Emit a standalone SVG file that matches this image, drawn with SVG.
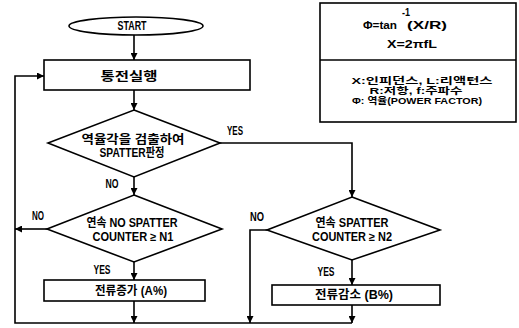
<svg xmlns="http://www.w3.org/2000/svg" width="519" height="328" viewBox="0 0 519 328">
<style>
.s{fill:none;stroke:#000;stroke-width:1.6}
.b{fill:#fff;stroke:#000;stroke-width:1.6}
.t{font-family:"Liberation Sans","Noto Sans CJK KR",sans-serif;font-weight:bold;font-size:12px;fill:#000;text-anchor:middle;dominant-baseline:central}
.i{font-family:"Liberation Sans","Noto Sans CJK KR",sans-serif;font-weight:bold;font-size:10.5px;fill:#000;text-anchor:middle;dominant-baseline:central}
.j{font-family:"Liberation Sans","Noto Sans CJK KR",sans-serif;font-weight:bold;font-size:9px;fill:#000;text-anchor:middle;dominant-baseline:central}
</style>
<defs>
<marker id="a" viewBox="0 0 10 10" refX="10" refY="5" markerWidth="7" markerHeight="7" orient="auto" markerUnits="userSpaceOnUse">
<path d="M0,0 L10,5 L0,10 Z" fill="#000"/>
</marker>
</defs>
<rect width="519" height="328" fill="#fff"/>
<g id="connectors">
<path class="s" d="M134,35 V60" marker-end="url(#a)"/>
<path class="s" d="M134,90 V110" marker-end="url(#a)"/>
<path class="s" d="M220,143 H352 V197" marker-end="url(#a)"/>
<path class="s" d="M134,177 V195" marker-end="url(#a)"/>
<path class="s" d="M47,229 H15" marker-end="url(#a)"/>
<path class="s" d="M15,229 V323 H352"/>
<path class="s" d="M15,229 V76 H44" marker-end="url(#a)"/>
<path class="s" d="M134,262 V280" marker-end="url(#a)"/>
<path class="s" d="M134,301 V323" marker-end="url(#a)"/>
<path class="s" d="M267,230 H250 V323" marker-end="url(#a)"/>
<path class="s" d="M352,260 V285" marker-end="url(#a)"/>
<path class="s" d="M352,305 V323" marker-end="url(#a)"/>
<text class="t" x="235" y="131" textLength="16" lengthAdjust="spacingAndGlyphs">YES</text>
<text class="t" x="112" y="184" textLength="13" lengthAdjust="spacingAndGlyphs">NO</text>
<text class="t" x="38" y="216" textLength="12" lengthAdjust="spacingAndGlyphs">NO</text>
<text class="t" x="102" y="270" textLength="17" lengthAdjust="spacingAndGlyphs">YES</text>
<text class="t" x="257" y="217" textLength="14" lengthAdjust="spacingAndGlyphs">NO</text>
<text class="t" x="326" y="272" textLength="17" lengthAdjust="spacingAndGlyphs">YES</text>
</g>
<g id="start">
<ellipse class="b" cx="136" cy="26" rx="67" ry="9"/>
<text class="t" x="132" y="26" textLength="29" lengthAdjust="spacingAndGlyphs">START</text>
</g>
<g id="weld">
<rect class="b" x="44" y="60" width="206" height="30"/>
<text class="t" x="129" y="77" textLength="57" lengthAdjust="spacingAndGlyphs">통전실행</text>
</g>
<g id="detect">
<polygon class="b" points="134,110 220,143 134,177 48,143"/>
<text class="t" x="133" y="140" textLength="103" lengthAdjust="spacingAndGlyphs">역율각을 검출하여</text>
<text class="t" x="132" y="153" textLength="65" lengthAdjust="spacingAndGlyphs">SPATTER판정</text>
</g>
<g id="nospatter">
<polygon class="b" points="134,195 222,229 134,262 47,229"/>
<text class="t" x="132" y="223" textLength="91" lengthAdjust="spacingAndGlyphs">연속 NO SPATTER</text>
<text class="t" x="133" y="237" textLength="81" lengthAdjust="spacingAndGlyphs">COUNTER ≥ N1</text>
</g>
<g id="spatter">
<polygon class="b" points="352,197 440,230 352,260 267,230"/>
<text class="t" x="352" y="223" textLength="73" lengthAdjust="spacingAndGlyphs">연속 SPATTER</text>
<text class="t" x="352" y="237" textLength="80" lengthAdjust="spacingAndGlyphs">COUNTER ≥ N2</text>
</g>
<g id="increase">
<rect class="b" x="44" y="280" width="161" height="21"/>
<text class="t" x="131" y="291" textLength="72" lengthAdjust="spacingAndGlyphs">전류증가 (A%)</text>
</g>
<g id="decrease">
<rect class="b" x="272" y="285" width="168" height="20"/>
<text class="t" x="354" y="295" textLength="78" lengthAdjust="spacingAndGlyphs">전류감소 (B%)</text>
</g>
<g id="legend">
<rect class="s" x="320" y="3" width="196" height="119"/>
<path class="s" d="M320,60 H516"/>
<text class="i" x="380" y="25" textLength="34" lengthAdjust="spacingAndGlyphs">Φ=tan</text>
<text class="i" x="406" y="12" font-size="8" textLength="8" lengthAdjust="spacingAndGlyphs">-1</text>
<text class="i" x="427" y="25" textLength="40" lengthAdjust="spacingAndGlyphs">(X/R)</text>
<text class="i" x="412" y="44" textLength="50" lengthAdjust="spacingAndGlyphs">X=2πfL</text>
<text class="j" x="422" y="81" textLength="141" lengthAdjust="spacingAndGlyphs">X:인피던스, L:리액턴스</text>
<text class="j" x="416" y="91" textLength="93" lengthAdjust="spacingAndGlyphs">R:저항, f:주파수</text>
<text class="j" x="417" y="101" textLength="130" lengthAdjust="spacingAndGlyphs">Φ: 역율(POWER FACTOR)</text>
</g>
</svg>
